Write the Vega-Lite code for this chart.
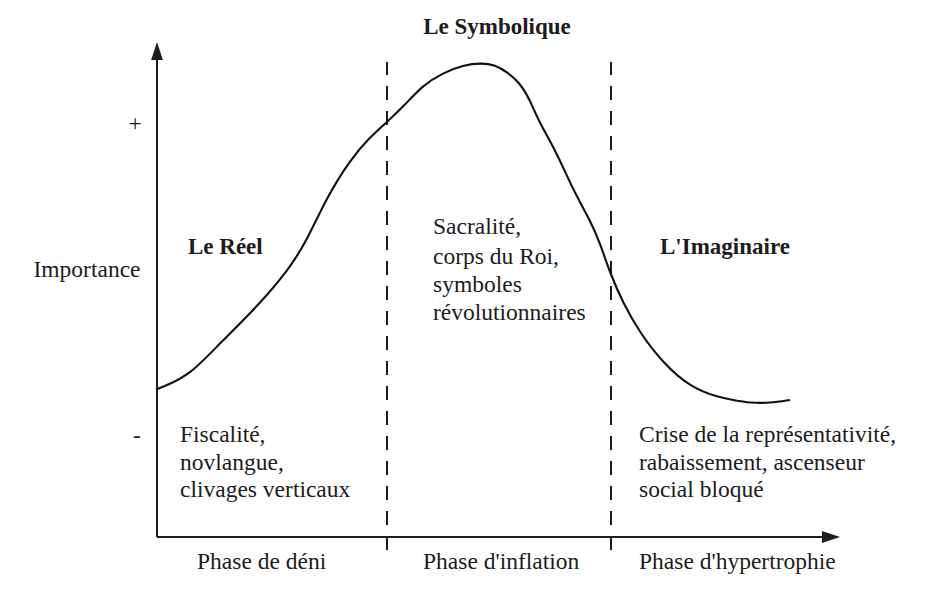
{
  "$schema": "https://vega.github.io/schema/vega-lite/v6.json",
  "width": 945,
  "height": 591,
  "padding": 0,
  "autosize": {"type": "fit", "contains": "padding"},
  "background": "white",
  "config": {"view": {"stroke": null}, "text": {"font": "Liberation Serif", "fontSize": 23.5, "color": "#1c1c1c"}},
  "datasets": {
    "curve": [
      {"x": 0, "y": 148}, {"x": 6, "y": 150}, {"x": 33, "y": 162}, {"x": 63, "y": 194},
      {"x": 100, "y": 230}, {"x": 133, "y": 269}, {"x": 150, "y": 297}, {"x": 170, "y": 340},
      {"x": 193, "y": 377}, {"x": 213, "y": 400}, {"x": 230, "y": 415}, {"x": 246, "y": 430},
      {"x": 266, "y": 452}, {"x": 286, "y": 464}, {"x": 306, "y": 472}, {"x": 325, "y": 474},
      {"x": 338, "y": 472}, {"x": 350, "y": 465}, {"x": 363, "y": 454}, {"x": 373, "y": 437},
      {"x": 381, "y": 417}, {"x": 400, "y": 384}, {"x": 416, "y": 347}, {"x": 433, "y": 317},
      {"x": 443, "y": 294}, {"x": 453, "y": 264}, {"x": 466, "y": 234}, {"x": 483, "y": 204},
      {"x": 506, "y": 174}, {"x": 533, "y": 150}, {"x": 560, "y": 140}, {"x": 576, "y": 137},
      {"x": 593, "y": 134}, {"x": 613, "y": 134}, {"x": 633, "y": 137}
    ],
    "axes": [
      {"x": 0, "y": 0, "x2": 676, "y2": 0},
      {"x": 0, "y": 0, "x2": 0, "y2": 488}
    ],
    "phases": [
      {"x": 230, "y": -13, "x2": 230, "y2": 475},
      {"x": 454, "y": -13, "x2": 454, "y2": 475}
    ],
    "arrowUp": [{"x": 0, "y": 486}],
    "arrowRight": [{"x": 674, "y": 0}],
    "boldLabels": [
      {"x": 340, "y": 510, "text": "Le Symbolique", "align": "center"},
      {"x": 31, "y": 290, "text": "Le Réel", "align": "left"},
      {"x": 503, "y": 290, "text": "L'Imaginaire", "align": "left"}
    ],
    "centerLabels": [
      {"x": -22, "y": 413, "text": "+"},
      {"x": -20, "y": 101, "text": "-"},
      {"x": -70, "y": 267, "text": "Importance"}
    ],
    "leftLabels": [
      {"x": 276, "y": 310, "text": "Sacralité,"},
      {"x": 276, "y": 280, "text": "corps du Roi,"},
      {"x": 276, "y": 252, "text": "symboles"},
      {"x": 276, "y": 224, "text": "révolutionnaires"},
      {"x": 23, "y": 102, "text": "Fiscalité,"},
      {"x": 23, "y": 74, "text": "novlangue,"},
      {"x": 23, "y": 47, "text": "clivages verticaux"},
      {"x": 482, "y": 102, "text": "Crise de la représentativité,"},
      {"x": 482, "y": 74, "text": "rabaissement, ascenseur"},
      {"x": 482, "y": 47, "text": "social bloqué"},
      {"x": 40, "y": -25, "text": "Phase de déni"},
      {"x": 266, "y": -25, "text": "Phase d'inflation"},
      {"x": 482, "y": -25, "text": "Phase d'hypertrophie"}
    ]
  },
  "encoding": {
    "x": {"field": "x", "type": "quantitative", "axis": null, "scale": {"domain": [-157, 788], "nice": false, "zero": false}},
    "y": {"field": "y", "type": "quantitative", "axis": null, "scale": {"domain": [-54, 537], "nice": false, "zero": false}}
  },
  "layer": [
    {
      "data": {"name": "phases"},
      "mark": {"type": "rule", "color": "#1c1c1c", "strokeWidth": 2, "strokeDash": [14, 11]},
      "encoding": {"x2": {"field": "x2"}, "y2": {"field": "y2"}}
    },
    {
      "data": {"name": "axes"},
      "mark": {"type": "rule", "color": "#1c1c1c", "strokeWidth": 2},
      "encoding": {"x2": {"field": "x2"}, "y2": {"field": "y2"}}
    },
    {
      "data": {"name": "arrowUp"},
      "mark": {"type": "point", "shape": "M0,-1L-0.65,1L0.65,1Z", "size": 330, "filled": true, "color": "#1c1c1c", "opacity": 1}
    },
    {
      "data": {"name": "arrowRight"},
      "mark": {"type": "point", "shape": "M1,0L-1,-0.65L-1,0.65Z", "size": 330, "filled": true, "color": "#1c1c1c", "opacity": 1}
    },
    {
      "data": {"name": "curve"},
      "mark": {"type": "line", "color": "#111111", "strokeWidth": 2.1, "interpolate": "basis"}
    },
    {
      "data": {"name": "boldLabels"},
      "transform": [{"filter": "datum.align == 'center'"}],
      "mark": {"type": "text", "fontWeight": "bold", "fontSize": 23, "align": "center", "baseline": "middle"},
      "encoding": {"text": {"field": "text"}}
    },
    {
      "data": {"name": "boldLabels"},
      "transform": [{"filter": "datum.align == 'left'"}],
      "mark": {"type": "text", "fontWeight": "bold", "fontSize": 23, "align": "left", "baseline": "middle"},
      "encoding": {"text": {"field": "text"}}
    },
    {
      "data": {"name": "centerLabels"},
      "mark": {"type": "text", "align": "center", "baseline": "middle"},
      "encoding": {"text": {"field": "text"}}
    },
    {
      "data": {"name": "leftLabels"},
      "mark": {"type": "text", "align": "left", "baseline": "middle"},
      "encoding": {"text": {"field": "text"}}
    }
  ]
}
